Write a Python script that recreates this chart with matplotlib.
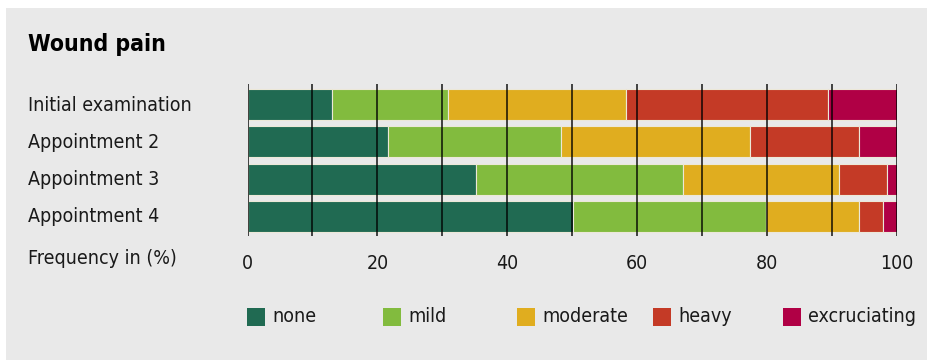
import numpy as np
import matplotlib
matplotlib.use('Agg')
import matplotlib.pyplot as plt
from matplotlib.patches import Rectangle

plt.rcParams['font.family'] = ['DejaVu Sans']
plt.rcParams['font.stretch'] = 'condensed'

# Pain ratings per visit (percent of patients)
visits = ['Initial examination', 'Appointment 2', 'Appointment 3', 'Appointment 4']
levels = ['none', 'mild', 'moderate', 'heavy', 'excruciating']
none = [13.0, 21.7, 35.2, 50.1]
mild = [17.8, 26.5, 31.9, 29.8]
moderate = [27.4, 29.1, 24.0, 14.3]
heavy = [31.2, 16.9, 7.4, 3.7]
excruciating = [10.6, 5.8, 1.5, 2.1]
colors = ['#206a52', '#82bb3e', '#e0ad1f', '#c43a26', '#b00045']
ticks = [0, 20, 40, 60, 80, 100]

W, H = 927, 360
fig = plt.figure(figsize=(W / 100, H / 100), dpi=100, facecolor='white')
# grey panel behind everything
fig.patches.append(Rectangle((6 / W, 0), 1 - 6 / W, 1 - 8 / H, transform=fig.transFigure,
                             facecolor='#e9e9e9', edgecolor='none', zorder=-5))

ax = fig.add_axes([247.5 / W, 1 - 236 / H, (897 - 247.5) / W, (236 - 84) / H])
ax.set_facecolor('none')

y = np.arange(len(visits))
left = np.zeros(len(visits))
for vals, col, name in zip([none, mild, moderate, heavy, excruciating], colors, levels):
    ax.barh(y, vals, left=left, height=0.83, color=col, edgecolor='#ece8d8',
            linewidth=0.8, label=name, zorder=2)
    left += np.array(vals)

for xv in range(0, 101, 10):
    ax.axvline(xv, color='black', alpha=0.72, linewidth=1.4, zorder=3)

ax.set_xlim(0, 100)
ax.set_ylim(3.52, -0.55)
for s in ax.spines.values():
    s.set_visible(False)
ax.set_yticks([])
ax.set_xticks(ticks)
ax.set_xticklabels([str(t) for t in ticks], fontsize=14, color='#1a1a1a')
ax.tick_params(axis='x', length=0, pad=13)

for i, name in enumerate(visits):
    fig.text(28 / W, 1 - (105 + 37.33 * i) / H, name, fontsize=14, color='#1a1a1a',
             va='center', ha='left')
fig.text(28 / W, 1 - 258 / H, 'Frequency in (%)', fontsize=14, color='#1a1a1a',
         va='center', ha='left')
fig.text(28 / W, 1 - 45 / H, 'Wound pain', fontsize=16.5, fontweight='bold',
         color='black', va='center', ha='left')

# legend squares and labels
leg_x = [247, 383, 517, 653, 783]
for xl, col, name in zip(leg_x, colors, levels):
    fig.patches.append(Rectangle((xl / W, 1 - 325.5 / H), 18 / W, 18 / H,
                                 transform=fig.transFigure, facecolor=col,
                                 edgecolor='none', zorder=2))
    fig.text((xl + 25) / W, 1 - 316.5 / H, name, fontsize=14, color='#1a1a1a',
             va='center', ha='left')

fig.savefig('out.png', dpi=100, facecolor='white')
